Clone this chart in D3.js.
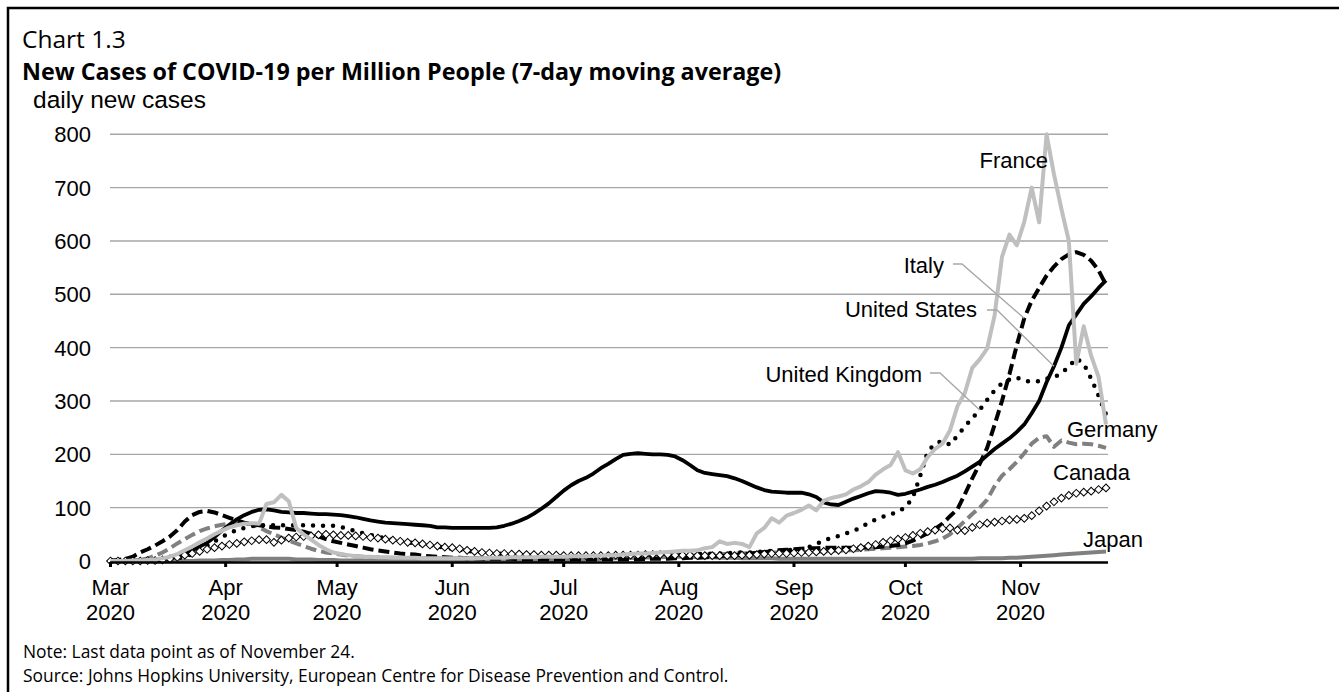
<!DOCTYPE html>
<html><head><meta charset="utf-8">
<script src="https://cdn.jsdelivr.net/npm/d3@7"></script>
<style>body{margin:0;background:#fff}svg{display:block}</style>
</head><body><svg id="c" width="1339" height="692"></svg>
<script>
// ---------- data ----------
const startDate = new Date(Date.UTC(2020, 2, 1));
const lastDate = new Date(Date.UTC(2020, 10, 24));
// sample every 2 days, Mar 1 .. Nov 24 2020
const dates = d3.utcDay.range(startDate, d3.utcDay.offset(lastDate, 1), 2);
const yTickValues = [0, 100, 200, 300, 400, 500, 600, 700, 800];
const monthTicks = d3.utcMonth.range(startDate, new Date(Date.UTC(2020, 11, 1)));

const unitedStates = [
  0,0,0,0,1,1,2,3,5,9,
  14,20,27,34,45,57,68,78,86,92,
  96,97,95,92,91,90,90,89,88,88,
  87,86,84,82,79,76,74,72,71,70,
  69,68,67,66,63,63,62,62,62,62,
  62,62,63,66,70,75,81,89,98,108,
  120,132,142,150,156,164,174,182,191,199,
  201,202,201,200,200,199,196,189,180,170,
  165,163,161,159,155,150,144,138,133,130,
  129,128,128,128,125,120,110,106,105,111,
  117,122,127,131,130,128,124,126,130,134,
  139,143,148,154,160,168,177,186,198,210,
  220,230,242,256,277,300,335,365,400,442,
  462,482,496,512,526];
const italy = [
  1,2,4,8,16,22,29,37,46,58,
  74,86,92,94,91,86,81,76,72,69,
  67,65,63,62,60,58,55,51,46,41,
  37,34,31,28,25,22,20,18,16,14,
  13,12,10,9,8,7,6,6,5,5,
  4,4,4,4,4,3,3,3,3,3,
  3,3,3,3,3,3,3,3,3,3,
  3,3,4,4,4,4,5,5,6,6,
  7,8,9,10,11,12,14,15,17,18,
  20,21,22,23,24,24,25,25,25,25,
  25,25,26,26,27,28,30,33,38,45,
  52,60,70,84,97,125,155,182,212,255,
  300,350,405,455,488,512,535,552,566,575,
  579,574,563,545,518];
const germany = [
  0,0,0,1,2,5,10,16,24,33,
  41,49,56,61,65,68,70,71,71,69,
  63,56,50,44,38,33,28,23,19,16,
  14,12,10,9,8,7,7,6,6,6,
  5,5,5,5,5,5,5,5,5,5,
  5,5,5,5,5,5,5,5,5,5,
  5,5,5,5,5,5,5,5,6,6,
  6,7,7,7,8,8,9,10,10,11,
  12,12,13,13,14,14,15,15,15,16,
  16,16,17,17,17,18,18,19,19,20,
  20,21,22,23,24,25,26,27,28,30,
  33,37,42,50,62,75,88,100,115,140,
  160,172,186,202,220,231,234,214,226,222,
  219,220,219,216,212];
const unitedKingdom = [
  0,0,0,0,0,0,1,2,3,5,
  8,13,20,28,37,45,52,58,62,65,
  67,67,67,67,67,67,67,67,66,66,
  66,64,60,56,52,49,46,42,40,37,
  35,33,31,29,27,25,23,21,19,17,
  16,15,14,13,12,11,10,10,9,9,
  9,9,9,9,9,9,9,10,10,10,
  10,10,11,11,11,12,12,12,12,13,
  13,14,14,15,15,16,16,17,18,19,
  19,20,21,23,26,32,38,43,47,52,
  56,63,71,78,83,87,93,100,119,160,
  205,220,225,218,235,252,268,283,302,320,
  333,340,344,338,336,337,342,344,352,364,
  380,370,342,310,275];
const france = [
  0,0,0,1,1,2,3,5,8,13,
  20,27,35,42,50,57,63,67,70,71,
  70,107,110,124,112,62,50,40,30,22,
  16,13,11,9,8,8,7,7,6,6,
  6,6,5,5,5,5,5,5,5,5,
  5,6,6,6,7,7,7,7,8,8,
  8,8,9,9,9,10,10,11,11,12,
  13,14,14,15,16,17,18,19,19,20,
  24,26,37,32,34,32,26,52,62,80,
  72,85,90,96,104,95,113,118,121,125,
  134,140,148,162,172,180,204,170,164,172,
  195,210,220,245,290,315,362,378,398,460,
  570,612,592,636,700,635,800,725,660,600,
  370,440,385,345,256];
const canada = [
  0,0,0,0,0,1,1,2,4,7,
  11,14,18,22,25,28,31,33,36,38,
  40,40,35,39,43,45,46,47,49,50,
  49,48,48,47,46,44,43,41,39,37,
  35,34,32,30,28,26,25,23,20,18,
  16,15,14,14,13,13,12,12,11,11,
  11,10,10,10,10,10,10,10,11,11,
  11,11,12,12,12,12,11,11,11,10,
  10,10,10,10,10,11,11,12,13,14,
  14,14,15,16,16,17,18,19,20,21,
  23,25,28,31,35,38,41,44,48,52,
  55,58,61,62,58,57,63,68,71,73,
  75,77,78,80,85,94,103,111,118,123,
  127,129,131,134,137];
const japan = [
  0,0,0,0,0,0,0,0,0,0,
  0,0,1,1,1,2,2,3,3,4,
  4,4,4,4,4,3,3,3,2,2,
  2,1,1,1,1,1,1,0,0,0,
  0,0,0,0,0,0,0,0,0,0,
  0,0,0,0,0,1,1,1,1,1,
  1,2,2,2,3,3,4,4,5,5,
  6,6,7,7,7,8,8,8,8,7,
  7,7,6,6,6,5,5,5,5,5,
  4,4,4,4,4,4,4,4,4,4,
  4,4,4,4,4,4,4,4,4,4,
  4,4,4,4,4,4,4,5,5,5,
  5,6,6,7,8,9,10,11,12,13,
  14,15,16,17,18];

// ---------- layout ----------
const svg = d3.select("#c");
svg.append("rect").attr("width", 1339).attr("height", 692).attr("fill", "#fff");

const x = d3.scaleUtc().domain([startDate, lastDate]).range([110.5, 1106]);
const y = d3.scaleLinear().domain([0, 800]).range([561, 134.3]);
const plotLeft = 110, plotRight = 1108;

// frame
svg.append("path").attr("d", "M8,692V8H1339").attr("fill", "none")
  .attr("stroke", "#000").attr("stroke-width", 2.5);

// titles
svg.append("text").attr("x", 22).attr("y", 48)
  .attr("font-family", "'Open Sans', sans-serif").attr("font-size", 24.5)
  .text("Chart 1.3");
svg.append("text").attr("x", 22).attr("y", 80)
  .attr("font-family", "'Open Sans', sans-serif").attr("font-weight", "bold").attr("font-size", 23.3)
  .text("New Cases of COVID-19 per Million People (7-day moving average)");
svg.append("text").attr("x", 33).attr("y", 108)
  .attr("font-family", "'Liberation Sans', Arial, sans-serif").attr("font-size", 24.5)
  .text("daily new cases");

// gridlines
svg.append("g").selectAll("line").data(yTickValues.filter(v => v > 0)).join("line")
  .attr("x1", plotLeft).attr("x2", plotRight)
  .attr("y1", d => y(d)).attr("y2", d => y(d))
  .attr("stroke", "#a6a6a6").attr("stroke-width", 1.4);

// y labels
svg.append("g").selectAll("text").data(yTickValues).join("text")
  .attr("x", 91).attr("y", d => y(d)).attr("dy", "0.36em")
  .attr("text-anchor", "end")
  .attr("font-family", "'Liberation Sans', Arial, sans-serif").attr("font-size", 22)
  .text(d => d);

// series
const line = d3.line().x((d, i) => x(dates[i])).y(d => y(d));
const seriesStyles = [
  {name: "Japan", values: japan, stroke: "#808080", width: 4, dash: null},
  {name: "Germany", values: germany, stroke: "#808080", width: 4, dash: "11,5"},
  {name: "United Kingdom", values: unitedKingdom, stroke: "#000", width: 4.5, dash: "0,10", cap: "round"},
  {name: "Italy", values: italy, stroke: "#000", width: 4, dash: "11,5"},
  {name: "United States", values: unitedStates, stroke: "#000", width: 3.8, dash: null},
];
const gSeries = svg.append("g");
seriesStyles.forEach(s => {
  gSeries.append("path").attr("d", line(s.values)).attr("fill", "none")
    .attr("stroke", s.stroke).attr("stroke-width", s.width)
    .attr("stroke-dasharray", s.dash).attr("stroke-linecap", s.cap || "butt")
    .attr("stroke-linejoin", "round");
});
// Canada markers
const diamond = d3.symbol().type(d3.symbolSquare).size(30);
gSeries.append("g").selectAll("path").data(canada).join("path")
  .attr("d", diamond)
  .attr("transform", (d, i) => `translate(${x(dates[i])},${y(d)}) rotate(45)`)
  .attr("fill", "#fff").attr("stroke", "#000").attr("stroke-width", 1);
// France on top
gSeries.append("path").attr("d", line(france)).attr("fill", "none")
  .attr("stroke", "#bfbfbf").attr("stroke-width", 4).attr("stroke-linejoin", "round");

// x axis
svg.append("line").attr("x1", plotLeft).attr("x2", plotRight)
  .attr("y1", 562.5).attr("y2", 562.5).attr("stroke", "#000").attr("stroke-width", 2.5);
const gx = svg.append("g");
gx.selectAll("line").data(monthTicks).join("line")
  .attr("x1", d => x(d)).attr("x2", d => x(d)).attr("y1", 562).attr("y2", 567)
  .attr("stroke", "#000").attr("stroke-width", 3);
const fmtM = d3.utcFormat("%b"), fmtY = d3.utcFormat("%Y");
const xl = gx.selectAll("text").data(monthTicks).join("text")
  .attr("text-anchor", "middle")
  .attr("font-family", "'Liberation Sans', Arial, sans-serif").attr("font-size", 22);
xl.append("tspan").attr("x", d => x(d)).attr("y", 595).text(d => fmtM(d));
xl.append("tspan").attr("x", d => x(d)).attr("y", 620).text(d => fmtY(d));

// labels
const lab = svg.append("g").attr("font-family", "'Liberation Sans', Arial, sans-serif").attr("font-size", 22);
const leader = (pts) => svg.append("path").attr("d", d3.line()(pts)).attr("fill", "none")
  .attr("stroke", "#a6a6a6").attr("stroke-width", 1.3);
lab.append("text").attr("x", 1048).attr("y", 168).attr("text-anchor", "end").text("France");
lab.append("text").attr("x", 944).attr("y", 273).attr("text-anchor", "end").text("Italy");
leader([[953, 264], [962, 264], [x(dates[123]), y(italy[123])]]);
lab.append("text").attr("x", 977).attr("y", 317).attr("text-anchor", "end").text("United States");
leader([[987, 310], [997, 310], [x(dates[127]), y(unitedStates[127])]]);
lab.append("text").attr("x", 922).attr("y", 382).attr("text-anchor", "end").text("United Kingdom");
leader([[930, 373], [940, 373], [x(dates[117]), y(unitedKingdom[117])]]);
lab.append("text").attr("x", 1067).attr("y", 437).text("Germany");
lab.append("text").attr("x", 1053).attr("y", 480).text("Canada");
lab.append("text").attr("x", 1083).attr("y", 547).text("Japan");

// notes
const notes = svg.append("g").attr("font-family", "'Open Sans', sans-serif").attr("font-size", 17.4);
notes.append("text").attr("x", 23).attr("y", 658).text("Note: Last data point as of November 24.");
notes.append("text").attr("x", 23).attr("y", 682).text("Source: Johns Hopkins University, European Centre for Disease Prevention and Control.");
</script>
</body></html>
